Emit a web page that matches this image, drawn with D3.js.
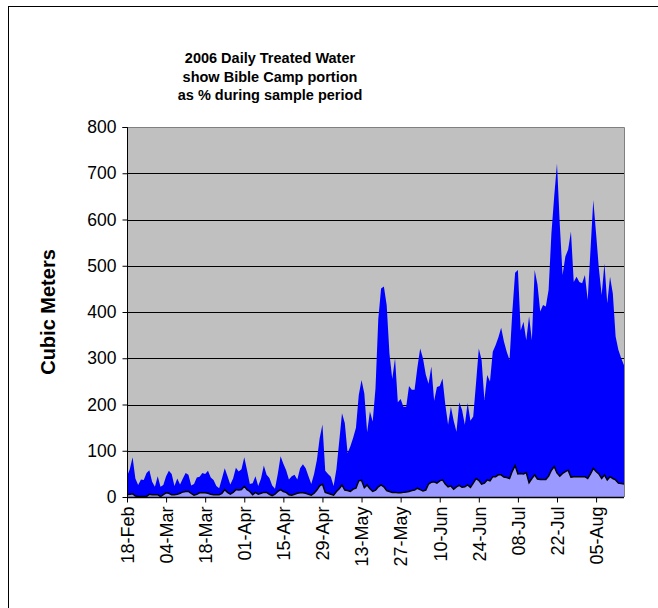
<!DOCTYPE html>
<html><head><meta charset="utf-8">
<script src="https://cdn.jsdelivr.net/npm/d3@7/dist/d3.min.js"></script>
<style>body{margin:0;background:#fff;}svg{display:block;font-family:Arial,"Liberation Sans",sans-serif;}</style>
</head><body>
<script>
const startDate = "2006-02-18";
const totalWater = [
45,60,86,40,26,38,37,52,58,33,22,45,22,26,45,57,50,24,40,27,
40,52,48,25,28,42,44,52,50,57,42,37,24,19,40,62,45,27,40,63,
55,60,86,58,28,30,45,24,40,68,48,41,25,18,50,88,72,58,38,45,
48,38,62,71,62,45,28,50,80,127,157,57,50,44,24,60,120,181,160,95,
110,128,150,220,253,224,140,185,163,235,385,451,455,415,310,255,300,205,212,195,
195,240,232,232,280,321,300,265,245,282,208,238,240,256,200,156,195,165,141,205,
188,156,203,165,174,246,321,296,210,264,250,314,328,345,366,336,314,296,400,485,
491,360,379,339,391,339,491,460,401,415,412,448,570,650,721,590,480,520,535,574,
465,476,465,462,480,426,534,642,570,494,437,505,419,476,440,347,318,300,285];
const bibleCamp = [
5,6,7,2,1,1,1,1,6,5,5,5,1,5,9,8,5,5,6,8,
11,12,12,8,4,6,9,9,9,8,6,5,5,5,8,16,10,6,10,16,
15,16,23,16,12,5,10,6,8,10,10,6,3,6,12,16,12,10,5,4,
6,8,9,9,8,6,4,8,15,24,28,10,8,6,4,12,18,26,15,14,
12,17,19,35,36,20,26,18,12,15,22,26,22,14,12,10,10,9,9,10,
11,12,14,15,19,16,13,15,28,32,33,30,35,37,28,22,24,17,22,25,
21,22,26,21,30,40,36,28,30,37,35,44,44,48,48,43,42,40,56,68,
50,51,50,53,31,40,48,39,38,38,38,45,58,66,52,45,51,55,58,43,
44,44,44,44,44,40,50,62,55,50,40,48,37,44,40,37,30,29,28];
const tickLabels = ["18-Feb","04-Mar","18-Mar","01-Apr","15-Apr","29-Apr","13-May","27-May","10-Jun","24-Jun","08-Jul","22-Jul","05-Aug"];
const yTicks = [0,100,200,300,400,500,600,700,800];
const titleLines = ["2006 Daily Treated Water","show Bible Camp portion","as % during sample period"];
const yTitle = "Cubic Meters";

const W = 658, H = 608;
const L = 127, R = 624, T = 127, B = 497;
const start = d3.timeParse("%Y-%m-%d")(startDate);
const dates = totalWater.map((_, i) => d3.timeDay.offset(start, i));
const data = dates.map((d, i) => ({date: d, total: totalWater[i], camp: bibleCamp[i]}));
const parseTick = d3.timeParse("%d-%b-%Y");
const tickDates = tickLabels.map(t => parseTick(t + "-2006"));

const svg = d3.select("body").append("svg").attr("width", W).attr("height", H);
svg.append("rect").attr("x", 8.5).attr("y", 6.5).attr("width", 700).attr("height", 700)
  .attr("fill", "#fff").attr("stroke", "#000").attr("stroke-width", 1);

const x = d3.scaleTime().domain(d3.extent(dates)).range([L, R]);
const y = d3.scaleLinear().domain([0, 800]).range([B, T]);

svg.append("rect").attr("x", L).attr("y", T).attr("width", R - L).attr("height", B - T).attr("fill", "#C0C0C0");

svg.append("g").selectAll("line").data(yTicks.filter(v => v > 0 && v < 800)).join("line")
  .attr("x1", L).attr("x2", R).attr("y1", d => Math.round(y(d)) + 0.5).attr("y2", d => Math.round(y(d)) + 0.5)
  .attr("stroke", "#000").attr("stroke-width", 1);

const areaTotal = d3.area().x(d => x(d.date)).y0(y(0)).y1(d => y(d.total));
const areaCamp = d3.area().x(d => x(d.date)).y0(y(0)).y1(d => y(d.camp));
const lineCamp = d3.line().x(d => x(d.date)).y(d => y(d.camp));
svg.append("path").datum(data).attr("d", areaTotal).attr("fill", "#0000FF");
svg.append("path").datum(data).attr("d", areaCamp).attr("fill", "#9999FF");
svg.append("path").datum(data).attr("d", lineCamp).attr("fill", "none").attr("stroke", "#000").attr("stroke-width", 1.5);

svg.append("path").attr("d", `M${L},${T+0.5}H${R+0.5}V${B}`).attr("fill", "none").attr("stroke", "#808080").attr("stroke-width", 1);

const yAxis = d3.axisLeft(y).tickValues(yTicks).tickSize(5).tickPadding(6).tickFormat(d3.format("d"));
const gy = svg.append("g").attr("transform", `translate(${L+0.5},0)`).call(yAxis);
gy.select(".domain").attr("stroke", "#000").attr("d", `M-5,${T+0.5}H0V${B+0.5}`);
gy.selectAll(".tick line").attr("stroke", "#000");
gy.selectAll(".tick text").attr("font-size", 17.5).attr("fill", "#000").attr("font-family", "Arial, 'Liberation Sans', sans-serif");

const xAxis = d3.axisBottom(x).tickValues(tickDates).tickSize(5).tickFormat((d, i) => tickLabels[i]);
const gx = svg.append("g").attr("transform", `translate(0,${B+0.5})`).call(xAxis);
gx.select(".domain").attr("stroke", "#000").attr("stroke-width", 1.5).attr("d", `M${L},0H${R}`);
gx.selectAll(".tick line").attr("stroke", "#000");
gx.selectAll(".tick text").attr("font-size", 18).attr("fill", "#000")
  .attr("font-family", "Arial, 'Liberation Sans', sans-serif")
  .attr("transform", "rotate(-90)").attr("text-anchor", "end").attr("dy", "0.35em").attr("x", -9).attr("y", 0);

svg.append("text").attr("transform", "translate(55,312) rotate(-90)").attr("text-anchor", "middle")
  .attr("font-size", 20).attr("font-weight", "bold").text(yTitle);

svg.append("g").selectAll("text").data(titleLines).join("text")
  .attr("x", 270).attr("y", (d, i) => 63 + i * 18.5).attr("text-anchor", "middle")
  .attr("font-size", 14.5).attr("font-weight", "bold").text(d => d);
</script>
</body></html>
